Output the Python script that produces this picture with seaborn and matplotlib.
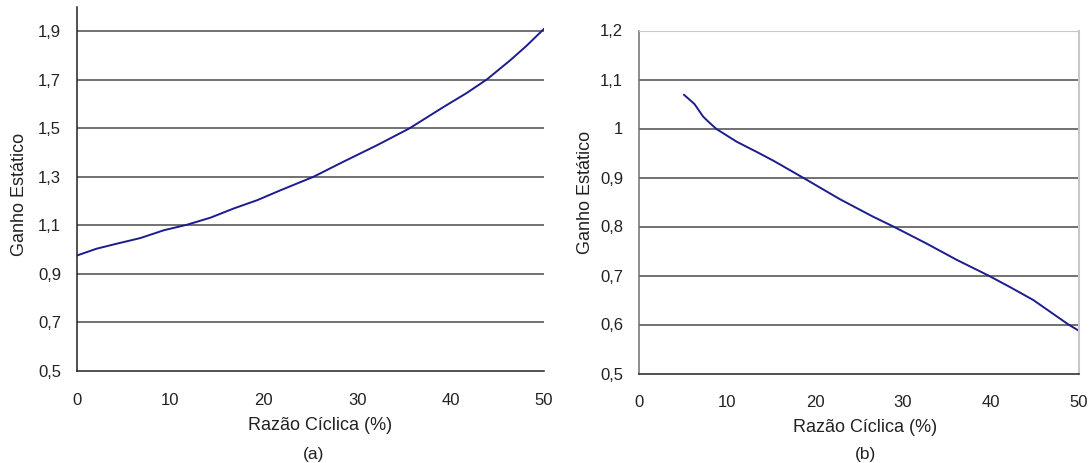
import numpy as np
import pandas as pd
import seaborn as sns
import matplotlib.pyplot as plt

# Painel (a)
duty_a = [0, 2.1, 4.3, 6.8, 9.3, 11.8, 14.3, 16.8, 19.3, 21.8, 25.3, 28.5, 32.1, 35.6,
          39.2, 41.7, 43.9, 46.4, 48.1, 50]
gain_a = [0.976, 1.004, 1.025, 1.048, 1.080, 1.103, 1.132, 1.170, 1.204, 1.245, 1.300, 1.362,
          1.430, 1.500, 1.587, 1.645, 1.702, 1.781, 1.839, 1.910]

# Painel (b)
duty_b = [5.1, 5.8, 6.3, 7.3, 8.0, 8.8, 11.1, 13.4, 15.3, 18.7, 22.8, 26.6, 28.9, 32.7,
          36.1, 39.7, 42.3, 44.8, 48.8, 50]
gain_b = [1.069, 1.058, 1.050, 1.024, 1.012, 0.999, 0.973, 0.952, 0.934, 0.899, 0.856, 0.820,
          0.800, 0.765, 0.732, 0.700, 0.675, 0.650, 0.600, 0.587]

xticks = [0, 10, 20, 30, 40, 50]
yticks_a = [0.5, 0.7, 0.9, 1.1, 1.3, 1.5, 1.7, 1.9]
ylabels_a = ["0,5", "0,7", "0,9", "1,1", "1,3", "1,5", "1,7", "1,9"]
yticks_b = [0.5, 0.6, 0.7, 0.8, 0.9, 1.0, 1.1, 1.2]
ylabels_b = ["0,5", "0,6", "0,7", "0,8", "0,9", "1", "1,1", "1,2"]

sns.set_style("white")
plt.rcParams['font.family'] = ['Liberation Sans', 'DejaVu Sans']

fig = plt.figure(figsize=(10.92, 4.63), dpi=100)
ax_a = fig.add_axes([77 / 1092, 1 - 371 / 463, (544 - 77) / 1092, (371 - 7) / 463])
ax_b = fig.add_axes([639 / 1092, 1 - 373.5 / 463, (1079 - 639) / 1092, (373.5 - 30.5) / 463])

line_color = "#1c1c8e"
df_a = pd.DataFrame({"x": duty_a, "y": gain_a})
df_b = pd.DataFrame({"x": duty_b, "y": gain_b})
sns.lineplot(data=df_a, x="x", y="y", ax=ax_a, color=line_color, linewidth=1.4)
sns.lineplot(data=df_b, x="x", y="y", ax=ax_b, color=line_color, linewidth=1.4)

# grid lines at each tick
for t in yticks_a[1:]:
    ax_a.axhline(t, color="#4a4a4a", linewidth=1.1, zorder=0)
for t in yticks_b[1:-1]:
    ax_b.axhline(t, color="#4a4a4a", linewidth=1.1, zorder=0)

ax_a.set_xlim(0, 50)
ax_a.set_ylim(0.5, 2.0)
ax_a.set_yticks(yticks_a)
ax_a.set_yticklabels(ylabels_a)
ax_b.set_xlim(0, 50)
ax_b.set_ylim(0.5, 1.2)
ax_b.set_yticks(yticks_b)
ax_b.set_yticklabels(ylabels_b)

for ax in (ax_a, ax_b):
    ax.set_xticks(xticks)
    ax.tick_params(axis="both", direction="out", width=1, color="#333333",
                   labelsize=12, labelcolor="#222222")
    ax.tick_params(axis="x", length=3.5, pad=12)
    ax.tick_params(axis="y", length=5, pad=6.5)
    ax.set_xlabel("Razão Cíclica (%)", fontsize=13, color="#222222")
    ax.set_ylabel("Ganho Estático", fontsize=13, color="#222222")
    ax.spines["bottom"].set_color("#222222")
    ax.spines["bottom"].set_linewidth(1.1)
    ax.spines["left"].set_linewidth(1.1)

ax_a.xaxis.set_label_coords(0.52, -0.126)
ax_a.yaxis.set_label_coords(-0.105, 0.486)
ax_b.xaxis.set_label_coords(0.514, -0.133)
ax_b.yaxis.set_label_coords(-0.103, 0.529)

ax_a.spines["left"].set_color("#222222")
ax_a.spines["top"].set_visible(False)
ax_a.spines["right"].set_visible(False)

ax_b.spines["left"].set_color("#6e6e6e")
ax_b.spines["top"].set_color("#c8c8c8")
ax_b.spines["right"].set_color("#c8c8c8")
ax_b.spines["right"].set_linewidth(1.5)

fig.text(314 / 1092, 1 - 455 / 463, "(a)", ha="center", va="center", fontsize=12.5, color="#222222")
fig.text(865 / 1092, 1 - 455 / 463, "(b)", ha="center", va="center", fontsize=12.5, color="#222222")

fig.savefig("out.png", dpi=100)
